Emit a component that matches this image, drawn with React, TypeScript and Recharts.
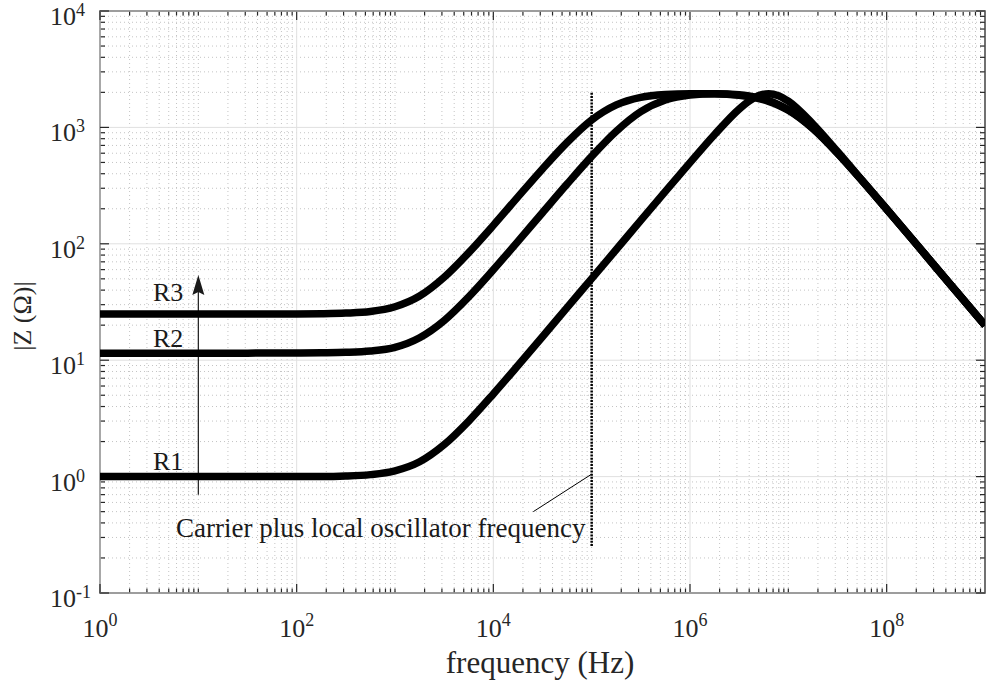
import {
  LineChart,
  Line,
  XAxis,
  YAxis,
  ReferenceLine,
  ReferenceDot,
  ReferenceArea
} from 'recharts';

// frequency points (Hz)
const freq = [
  1, 3.16, 10, 31.6, 100, 178, 316, 562, 1000, 1780, 3160, 5620, 1e4, 1.78e4,
  3.16e4, 5.62e4, 1e5, 1.78e5, 3.16e5, 5.62e5, 1e6, 1.78e6, 3.16e6, 3.98e6,
  5.01e6, 6.31e6, 7.94e6, 1e7, 1.78e7, 3.16e7, 5.62e7, 1e8, 1.78e8, 3.16e8,
  5.62e8, 1e9
];

// |Z| in ohms
const impedanceR1 = [
  1.0, 1.0, 1.0, 1.0, 1.0, 1.0, 1.01, 1.04, 1.12, 1.34, 1.88, 3.0, 5.13, 9.0,
  15.9, 28.3, 50.2, 89.3, 159, 282, 498, 869, 1437, 1683, 1876, 1950, 1873,
  1678, 1069, 621, 352, 199, 112, 62.9, 35.4, 19.9
];
const impedanceR2 = [
  11.5, 11.5, 11.5, 11.5, 11.55, 11.6, 11.7, 12.0, 12.9, 15.6, 21.9, 35.0,
  59.8, 105, 185, 326, 564, 927, 1366, 1719, 1898, 1950, 1910, 1864, 1794,
  1697, 1570, 1416, 978, 601, 349, 198, 112, 62.9, 35.4, 19.9
];
const impedanceR3 = [
  25, 25, 25, 25, 25, 25.1, 25.4, 26.2, 28.8, 35.6, 51.6, 83.9, 144, 253, 440,
  742, 1157, 1559, 1810, 1916, 1948, 1941, 1884, 1837, 1769, 1674, 1551, 1402,
  974, 600, 348, 198, 112, 62.9, 35.4, 19.9
];

// axis ticks
const xMajorTicks = [1, 1e2, 1e4, 1e6, 1e8];
const xMajorLabels = ['0', '2', '4', '6', '8'];
const yMajorTicks = [0.1, 1, 10, 100, 1000, 1e4];
const yMajorLabels = ['-1', '0', '1', '2', '3', '4'];
const minorSteps = [2, 3, 4, 5, 6, 7, 8, 9];
const xDecades = [1, 10, 100, 1e3, 1e4, 1e5, 1e6, 1e7, 1e8];
const xOddDecades = [10, 1e3, 1e5, 1e7];
const yDecades = [0.1, 1, 10, 100, 1000];

// annotations
const curveLabels = [
  { text: 'R3', f: 3.46, z: 32.3 },
  { text: 'R2', f: 3.46, z: 13.0 },
  { text: 'R1', f: 3.46, z: 1.14 }
];
const carrierNote = { text: 'Carrier plus local oscillator frequency', f: 5.94, z: 0.303 };
const carrierFreq = 1e5;

const AXIS = '#262626';
const FONT = '"Liberation Serif", "Times New Roman", serif';

const chartData = freq.map((f, i) => ({
  f,
  r1: impedanceR1[i],
  r2: impedanceR2[i],
  r3: impedanceR3[i]
}));

const xMinorTicks = [
  ...xDecades.flatMap((d) => minorSteps.map((m) => m * d)),
  ...xOddDecades
];
const yMinorTicks = yDecades.flatMap((d) => minorSteps.map((m) => m * d));

const verticalGrid = (major: boolean, exp: string | null) => (p: any) => {
  const top = Math.min(p.y1, p.y2);
  const bottom = Math.max(p.y1, p.y2);
  const x = p.x1;
  const len = major ? 9 : 4.5;
  return (
    <g>
      <line
        x1={x}
        y1={top}
        x2={x}
        y2={bottom}
        stroke={major ? '#e0e0e0' : '#c4c4c4'}
        strokeWidth={1}
        strokeDasharray={major ? undefined : '1 3'}
      />
      <line x1={x} y1={bottom} x2={x} y2={bottom - len} stroke={AXIS} strokeWidth={1.2} />
      <line x1={x} y1={top} x2={x} y2={top + len} stroke={AXIS} strokeWidth={1.2} />
      {exp !== null && (
        <text x={x} y={bottom + 44} textAnchor="middle" fontFamily={FONT} fontSize={26} fill={AXIS}>
          10
          <tspan dy={-11} fontSize={18}>
            {exp}
          </tspan>
        </text>
      )}
    </g>
  );
};

const horizontalGrid = (major: boolean, exp: string | null) => (p: any) => {
  const left = Math.min(p.x1, p.x2);
  const right = Math.max(p.x1, p.x2);
  const y = p.y1;
  const len = major ? 9 : 5;
  return (
    <g>
      <line
        x1={left}
        y1={y}
        x2={right}
        y2={y}
        stroke={major ? '#e0e0e0' : '#c4c4c4'}
        strokeWidth={1}
        strokeDasharray={major ? undefined : '1 3'}
      />
      <line x1={left} y1={y} x2={left + len} y2={y} stroke={AXIS} strokeWidth={1.2} />
      <line x1={right} y1={y} x2={right - len} y2={y} stroke={AXIS} strokeWidth={1.2} />
      {exp !== null && (
        <text x={left - 50} y={y + 14} fontFamily={FONT} fontSize={26} fill={AXIS}>
          10
          <tspan dy={-9} fontSize={18}>
            {exp}
          </tspan>
        </text>
      )}
    </g>
  );
};

const arrowShape = (p: any) => {
  const tip = Math.min(p.y1, p.y2);
  const base = Math.max(p.y1, p.y2);
  const x = p.x1;
  return (
    <g>
      <line x1={x} y1={base} x2={x} y2={tip + 12} stroke="#1a1a1a" strokeWidth={1.2} />
      <polygon
        points={`${x},${tip} ${x - 6},${tip + 20} ${x},${tip + 17} ${x + 6},${tip + 20}`}
        fill="#1a1a1a"
      />
    </g>
  );
};

const textShape = (text: string, size: number) => (p: any) => (
  <text x={p.cx} y={p.cy} fontFamily={FONT} fontSize={size} fill="#1a1a1a">
    {text}
  </text>
);

const App = () => {
  return (
    <div
      style={{
        position: 'absolute',
        left: 0,
        top: 0,
        width: 987,
        height: 685,
        background: '#fff'
      }}
    >
      <LineChart
        width={987}
        height={685}
        data={chartData}
        margin={{ top: 11, right: 2, bottom: 92, left: 100 }}
      >
        <XAxis
          dataKey="f"
          type="number"
          scale="log"
          domain={[1, 1e9]}
          allowDataOverflow
          hide
        />
        <YAxis type="number" scale="log" domain={[0.1, 1e4]} allowDataOverflow hide />

        {xMinorTicks.map((v) => (
          <ReferenceLine key={`xm${v}`} x={v} ifOverflow="visible" shape={verticalGrid(false, null)} />
        ))}
        {yMinorTicks.map((v) => (
          <ReferenceLine key={`ym${v}`} y={v} ifOverflow="visible" shape={horizontalGrid(false, null)} />
        ))}
        {xMajorTicks.map((v, i) => (
          <ReferenceLine
            key={`xM${v}`}
            x={v}
            ifOverflow="visible"
            shape={verticalGrid(true, xMajorLabels[i])}
          />
        ))}
        {yMajorTicks.map((v, i) => (
          <ReferenceLine
            key={`yM${v}`}
            y={v}
            ifOverflow="visible"
            shape={horizontalGrid(true, yMajorLabels[i])}
          />
        ))}

        <ReferenceLine
          segment={[
            { x: carrierFreq, y: 1980 },
            { x: carrierFreq, y: 0.25 }
          ]}
          ifOverflow="visible"
          stroke="#000"
          strokeWidth={2.5}
          strokeDasharray="2 1.2"
        />
        <ReferenceLine
          segment={[
            { x: carrierFreq, y: 1.05 },
            { x: 2.55e4, y: 0.5 }
          ]}
          ifOverflow="visible"
          stroke="#000"
          strokeWidth={1}
        />
        <ReferenceLine
          segment={[
            { x: 10, y: 0.7 },
            { x: 10, y: 54 }
          ]}
          ifOverflow="visible"
          shape={arrowShape}
        />

        <Line
          dataKey="r1"
          type="monotone"
          stroke="#000"
          strokeWidth={7.5}
          strokeLinejoin="round"
          dot={false}
          isAnimationActive={false}
        />
        <Line
          dataKey="r2"
          type="monotone"
          stroke="#000"
          strokeWidth={7.5}
          strokeLinejoin="round"
          dot={false}
          isAnimationActive={false}
        />
        <Line
          dataKey="r3"
          type="monotone"
          stroke="#000"
          strokeWidth={7.5}
          strokeLinejoin="round"
          dot={false}
          isAnimationActive={false}
        />

        {curveLabels.map((l) => (
          <ReferenceDot key={l.text} x={l.f} y={l.z} ifOverflow="visible" shape={textShape(l.text, 26)} />
        ))}
        <ReferenceDot
          x={carrierNote.f}
          y={carrierNote.z}
          ifOverflow="visible"
          shape={textShape(carrierNote.text, 27)}
        />

        <ReferenceArea
          x1={1}
          x2={1e9}
          y1={0.1}
          y2={1e4}
          ifOverflow="visible"
          fill="none"
          stroke={AXIS}
          strokeWidth={1.3}
        />
      </LineChart>
      <svg
        width={987}
        height={685}
        style={{ position: 'absolute', left: 0, top: 0, pointerEvents: 'none' }}
      >
        <text x={540} y={673} textAnchor="middle" fontFamily={FONT} fontSize={31} fill={AXIS}>
          frequency (Hz)
        </text>
        <text
          x={31}
          y={316}
          textAnchor="middle"
          fontFamily={FONT}
          fontSize={26}
          fill={AXIS}
          transform="rotate(-90, 31, 316)"
        >
          |Z (Ω)|
        </text>
      </svg>
    </div>
  );
};

export default App;
